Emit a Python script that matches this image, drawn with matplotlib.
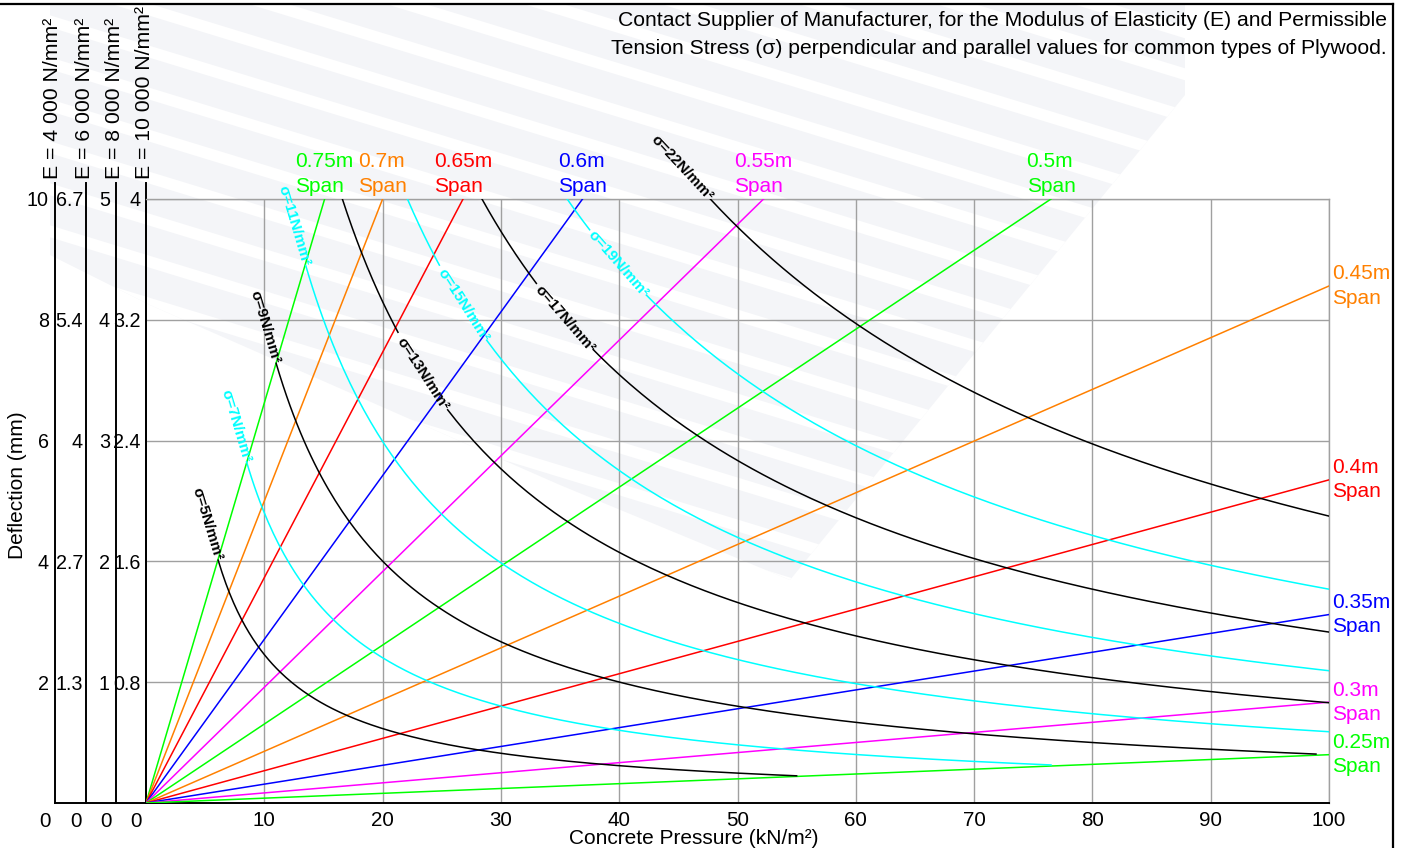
import numpy as np
import matplotlib.pyplot as plt
from matplotlib.patches import Polygon

plt.rcParams['font.family'] = ['Liberation Sans', 'DejaVu Sans']

# span lines: concrete pressure (kN/m²) and deflection (mm) where each line ends
span_labels = ['0.75m', '0.7m', '0.65m', '0.6m', '0.55m', '0.5m',
               '0.45m', '0.4m', '0.35m', '0.3m', '0.25m']
span_end_p = [15.1, 20.0, 26.8, 36.9, 52.2, 76.5, 100, 100, 100, 100, 100]
span_end_d = [10, 10, 10, 10, 10, 10, 8.56, 5.35, 3.12, 1.67, 0.80]
span_colors = ['#00ff00', '#ff8000', '#ff0000', '#0000ff', '#ff00ff', '#00ff00',
               '#ff8000', '#ff0000', '#0000ff', '#ff00ff', '#00ff00']

# permissible stress curves: first and last point of each curve
sigma_vals = [5, 7, 9, 11, 13, 15, 17, 19, 22]
sigma_start_p = [6.1, 8.5, 11.0, 13.5, 16.6, 22.1, 28.4, 35.6, 47.7]
sigma_start_d = [4.02, 5.65, 7.28, 8.9, 10, 10, 10, 10, 10]
sigma_end_p = [55, 76.5, 98.9, 100, 100, 100, 100, 100, 100]
sigma_end_d = [0.45, 0.63, 0.81, 1.18, 1.66, 2.19, 2.83, 3.54, 4.75]
sigma_colors = ['black', '#00ffff', 'black', '#00ffff', 'black',
                '#00ffff', 'black', '#00ffff', 'black']

# deflection scales for the different moduli of elasticity
e_titles = ['E = 4 000 N/mm²', 'E = 6 000 N/mm²', 'E = 8 000 N/mm²', 'E = 10 000 N/mm²']
e_ticks = [['2', '4', '6', '8', '10'],
           ['1.3', '2.7', '4', '5.4', '6.7'],
           ['1', '2', '3', '4', '5'],
           ['0.8', '1.6', '2.4', '3.2', '4']]
deflection_ticks = [2, 4, 6, 8, 10]
pressure_ticks = [10, 20, 30, 40, 50, 60, 70, 80, 90, 100]

title_lines = ['Contact Supplier of Manufacturer, for the Modulus of Elasticity (E) and Permissible',
               'Tension Stress (σ) perpendicular and parallel values for common types of Plywood.']

W, H = 1406, 848
FS = 15.2
TICK_FS = 14.2
fig = plt.figure(figsize=(W / 100, H / 100), dpi=100)

# background layer in pixel coordinates (watermark, frame, free text)
bg = fig.add_axes([0, 0, 1, 1], zorder=0)
bg.set_xlim(0, W)
bg.set_ylim(H, 0)
bg.axis('off')

outline = [(50, 5), (1185, 5), (1185, 95), (790, 580), (560, 485), (150, 305), (50, 255)]
mark = Polygon(outline, closed=True, facecolor='#f4f5f8', edgecolor='none')
bg.add_patch(mark)
tilt = np.tan(np.radians(17))
for k in range(-30, 20):
    y0 = k * 42
    stripe = Polygon([(0, y0), (W, y0 + W * tilt), (W, y0 + W * tilt + 12), (0, y0 + 12)],
                     facecolor='white', edgecolor='none')
    bg.add_patch(stripe)
    stripe.set_clip_path(mark)

bg.plot([0, 1393], [4, 4], color='black', lw=1.6)
bg.plot([1393, 1393], [4, H], color='black', lw=1.6)

# main chart area
x0, x1, y_top, y_bot = 146, 1329, 199, 803
ax = fig.add_axes([x0 / W, (H - y_bot) / H, (x1 - x0) / W, (y_bot - y_top) / H], zorder=1)
ax.patch.set_alpha(0)
ax.set_xlim(0, 100)
ax.set_ylim(0, 10)
ax.set_xticks(pressure_ticks)
ax.set_yticks(deflection_ticks)
ax.tick_params(length=0, labelsize=TICK_FS + 0.6, pad=6)
ax.tick_params(axis='y', labelleft=False)
ax.grid(color='#a0a0a0', lw=1.0)
for side in ['top', 'right']:
    ax.spines[side].set_color('#a0a0a0')
    ax.spines[side].set_linewidth(1.0)
for side in ['left', 'bottom']:
    ax.spines[side].set_color('black')
    ax.spines[side].set_linewidth(1.4)


def to_px(p, d):
    return bg.transData.inverted().transform(ax.transData.transform((p, d)))


def angle_at(p, d, dp, dd):
    a = ax.transData.transform((p, d))
    b = ax.transData.transform((p + dp, d + dd))
    return np.degrees(np.arctan2(b[1] - a[1], b[0] - a[0]))


# deflection scales on the left
e_line_x = [55, 86, 116, 146]
e_pad = [6, 3, 6, 5]
bg.plot([e_line_x[0], x0], [y_bot, y_bot], color='black', lw=1.4)
for i, xl in enumerate(e_line_x):
    bg.plot([xl, xl], [183, y_bot], color='black', lw=1.4)
    bg.text(xl - 2, 179, e_titles[i], rotation=90, ha='center', va='bottom', fontsize=15.3)
    for d, lab in zip(deflection_ticks, e_ticks[i]):
        py = to_px(0, d)[1]
        bg.text(xl - e_pad[i], py, lab, ha='right', va='center_baseline', fontsize=TICK_FS)
    bg.text(xl - 4, y_bot + 9, '0', ha='right', va='top', fontsize=TICK_FS + 0.6)

bg.text(18, 485, 'Deflection (mm)', rotation=90, ha='center', va='center', fontsize=15)
bg.text(694, 844, 'Concrete Pressure (kN/m²)', ha='center', va='baseline', fontsize=15)
bg.text(1387, 20, title_lines[0], ha='right', va='center', fontsize=FS)
bg.text(1387, 48, title_lines[1], ha='right', va='center', fontsize=FS)

# span lines
for lab, p, d, c in zip(span_labels, span_end_p, span_end_d, span_colors):
    ax.plot([0, p], [0, d], color=c, lw=1.1, zorder=3)
    if d >= 10:
        ax.annotate(lab + '\nSpan', xy=(p, d), xytext=(0, 2), textcoords='offset points',
                    ha='center', va='bottom', multialignment='left', color=c,
                    fontsize=15, linespacing=1.4, annotation_clip=False)
    else:
        ax.annotate(lab + '\nSpan', xy=(p, d), xytext=(2, 0), textcoords='offset points',
                    ha='left', va='center', multialignment='left', color=c,
                    fontsize=15, linespacing=1.35, annotation_clip=False)

# label gaps cut into the stress curves
inline_gap = {13: (21.3, 25.5), 15: (24.8, 28.8), 17: (33.0, 37.8), 19: (37.5, 42.3)}

for s, pa, da, pb, db, c in zip(sigma_vals, sigma_start_p, sigma_start_d,
                                sigma_end_p, sigma_end_d, sigma_colors):
    k = np.log(db / da) / np.log(pb / pa)

    def curve(p):
        return da * (p / pa) ** k

    text = 'σ=%dN/mm²' % s
    if s in inline_gap:
        ga, gb = inline_gap[s]
        for lo, hi in [(pa, ga), (gb, pb)]:
            p = np.linspace(lo, hi, 200)
            ax.plot(p, curve(p), color=c, lw=1.1, zorder=3)
        pm = 0.5 * (ga + gb)
        dm = curve(pm)
        rot = angle_at(pm, dm, 0.1, curve(pm + 0.1) - dm)
        ax.text(pm, dm, text, rotation=rot, rotation_mode='anchor', ha='center',
                va='center', color=c, fontsize=11, fontweight='bold', zorder=4)
    else:
        p = np.linspace(pa, pb, 300)
        ax.plot(p, curve(p), color=c, lw=1.1, zorder=3)
        rot = angle_at(pa, da, 0.1, curve(pa + 0.1) - da)
        ax.text(pa, da, text, rotation=rot, rotation_mode='anchor', ha='right',
                va='center', color=c, fontsize=11, fontweight='bold', zorder=4,
                clip_on=False)

fig.savefig('out.png', dpi=100)
